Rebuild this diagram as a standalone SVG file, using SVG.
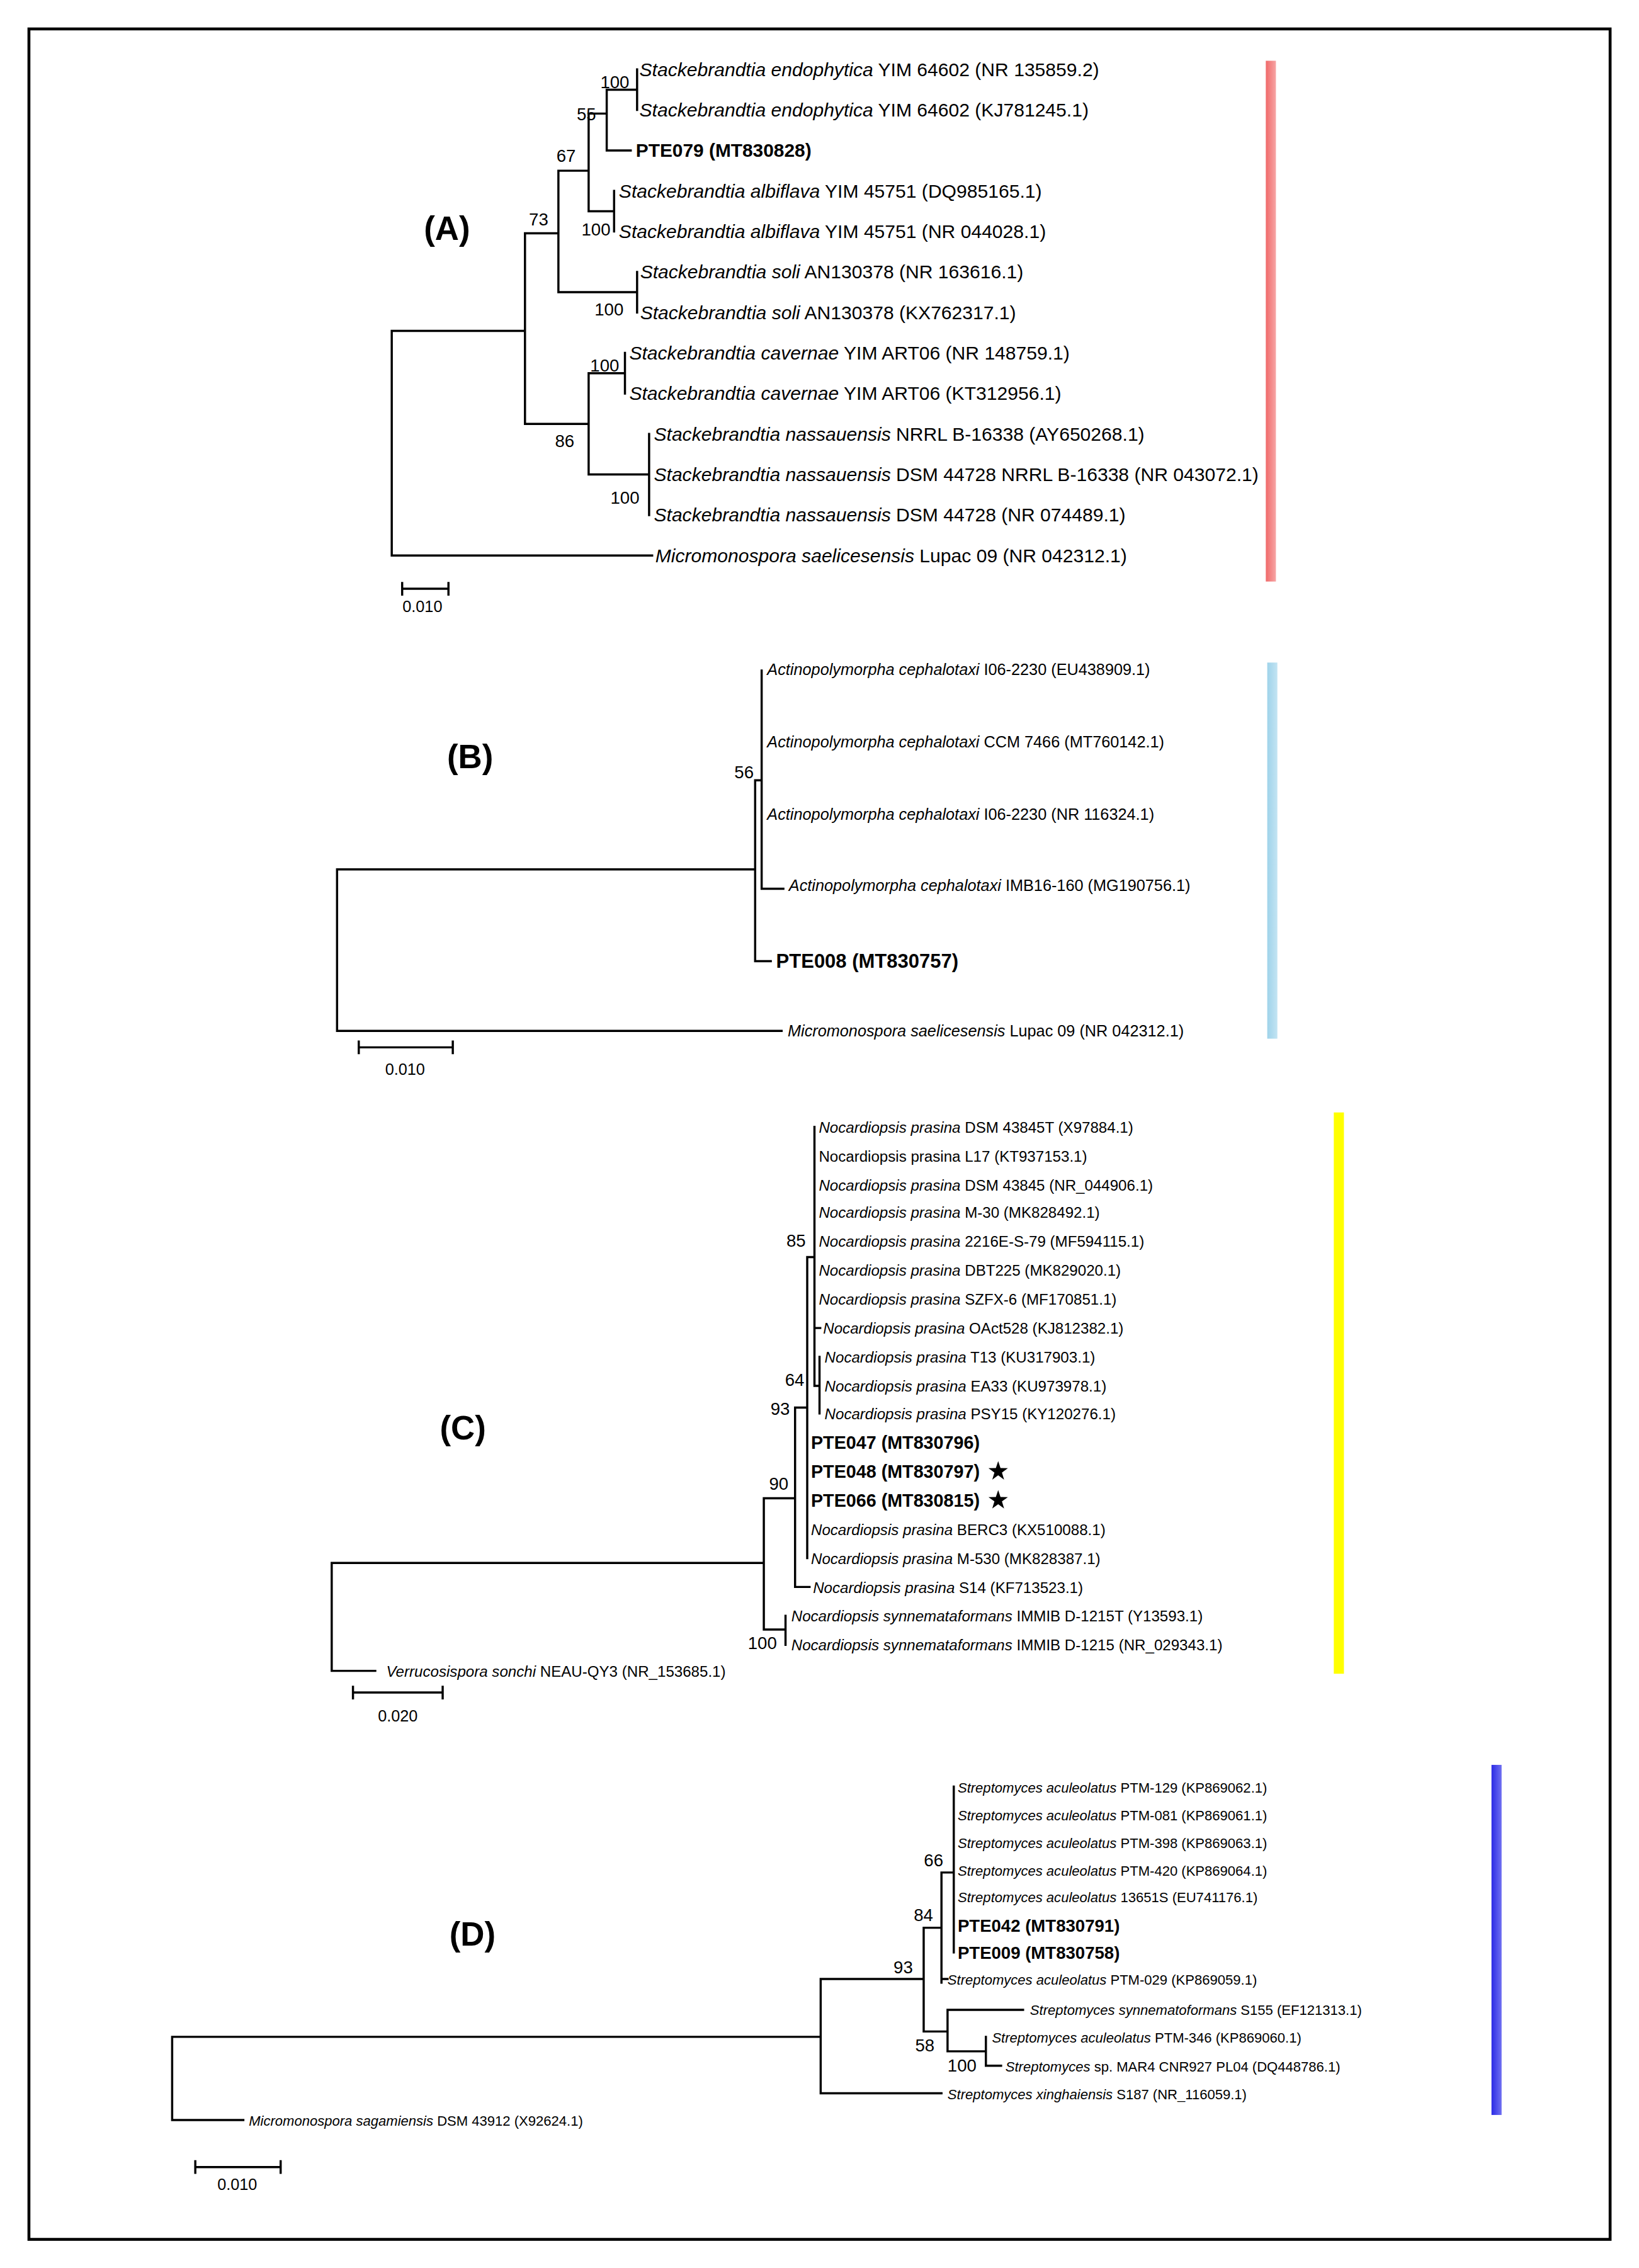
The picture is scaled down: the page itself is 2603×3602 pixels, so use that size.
<svg xmlns="http://www.w3.org/2000/svg" width="2603" height="3602" viewBox="0 0 2603 3602">
<style>
.t{font-family:"Liberation Sans",Arial,sans-serif;fill:#000}
.i{font-style:italic}
.b{font-weight:bold}
.bs{font-family:"Liberation Sans",Arial,sans-serif;font-size:12px;text-anchor:end}
.pl{font-family:"Liberation Sans",Arial,sans-serif;font-size:23px;font-weight:bold;text-anchor:middle}
.br{fill:none;stroke:#000;stroke-width:1.5;stroke-linecap:square}
.sc{font-family:"Liberation Sans",Arial,sans-serif;font-size:11px;text-anchor:middle}
.A{font-size:13.1px}.B{font-size:11px}.C{font-size:10.5px}.D{font-size:9.6px}
.bb{font-weight:bold;font-size:12.5px}
.bd{font-weight:bold;font-size:12px}
</style>
<defs>
<linearGradient id="gr" x1="0" x2="1"><stop offset="0" stop-color="#f06a6a"/><stop offset="1" stop-color="#f7a5a5"/></linearGradient>
<linearGradient id="gb" x1="0" x2="1"><stop offset="0" stop-color="#9fd3ea"/><stop offset="1" stop-color="#c3e4f3"/></linearGradient>
<linearGradient id="gd" x1="0" x2="1"><stop offset="0" stop-color="#2a2ae6"/><stop offset="1" stop-color="#6f6ff0"/></linearGradient>
</defs>
<rect width="2603" height="3602" fill="#fff"/>
<g transform="scale(2.2975)">
<rect x="20" y="20" width="1093" height="1528" fill="none" stroke="#000" stroke-width="2"/>
<g id="connectors" class="br">
<path d="M270.8,228.7V384M270.8,228.7H362.9M270.8,384H450.8M362.9,161.3V293M362.9,161.3H386M386,118V202M386,118H406.9M406.9,78.5V146M406.9,78.5H419.4M419.4,62V104M419.4,62H440.4M440.4,48V76M419.4,104H436M406.9,146H424.5M424.5,132V160M386,202H440.4M440.4,188V216M362.9,293H406.9M406.9,258V328M406.9,258H432M432,244V272M406.9,328H448.7M448.7,300V356"/>
<path d="M278,407H310M278,403V411M310,403V411"/>
<path d="M233,601V712.6M233,601H522M233,712.6H540.3M522,539.4V664.4M522,664.4H532.8M522,539.4H526.5M526.5,463.5V614.4M526.5,614.4H541.5"/>
<path d="M248,724H313M248,720V728M313,720V728"/>
<path d="M229.3,1080.4V1155M229.3,1080.4H528M229.3,1155H259.4M528,1035.7V1126.4M528,1035.7H549.6M528,1126.4H543M543,1117V1137M549.6,973V1097M549.6,1097H559.6M549.6,973H558M558,869V1077M558,869H563M563,779V958M563,958H566.5M566.5,938V977M563,918H567"/>
<path d="M244,1170H306M244,1166V1174M306,1166V1174"/>
<path d="M119,1408V1465.5M119,1408H567.3M119,1465.5H168.2M567.3,1368V1447M567.3,1447H650.8M567.3,1368H638.5M638.5,1332.6V1404.3M638.5,1332.6H650.8M650.8,1294.4V1370.5M650.8,1368H655M650.8,1294.4H659.3M659.3,1235V1349.6M638.5,1404.3H655M655,1389.3V1418M655,1389.3H707.2M655,1418H681.5M681.5,1408V1428M681.5,1428H692"/>
<path d="M135,1498H194M135,1494V1502M194,1494V1502"/>
</g>
<g id="panelA">
<text class="pl" x="309" y="166">(A)</text>
<rect x="875" y="42" width="7" height="360" fill="url(#gr)"/>
<g class="t A">
<text x="442" y="52.5"><tspan class="i">Stackebrandtia endophytica</tspan> YIM 64602 (NR 135859.2)</text>
<text x="442" y="80.5"><tspan class="i">Stackebrandtia endophytica</tspan> YIM 64602 (KJ781245.1)</text>
<text x="439.5" y="108.5" class="b" style="font-size:13px">PTE079 (MT830828)</text>
<text x="427.8" y="136.5"><tspan class="i">Stackebrandtia albiflava</tspan> YIM 45751 (DQ985165.1)</text>
<text x="427.8" y="164.5"><tspan class="i">Stackebrandtia albiflava</tspan> YIM 45751 (NR 044028.1)</text>
<text x="442.5" y="192.5"><tspan class="i">Stackebrandtia soli</tspan> AN130378 (NR 163616.1)</text>
<text x="442.5" y="220.5"><tspan class="i">Stackebrandtia soli</tspan> AN130378 (KX762317.1)</text>
<text x="435" y="248.5"><tspan class="i">Stackebrandtia cavernae</tspan> YIM ART06 (NR 148759.1)</text>
<text x="435" y="276.5"><tspan class="i">Stackebrandtia cavernae</tspan> YIM ART06 (KT312956.1)</text>
<text x="452" y="304.5"><tspan class="i">Stackebrandtia nassauensis</tspan> NRRL B-16338 (AY650268.1)</text>
<text x="452" y="332.5"><tspan class="i">Stackebrandtia nassauensis</tspan> DSM 44728 NRRL B-16338 (NR 043072.1)</text>
<text x="452" y="360.5"><tspan class="i">Stackebrandtia nassauensis</tspan> DSM 44728 (NR 074489.1)</text>
<text x="453" y="388.5"><tspan class="i">Micromonospora saelicesensis</tspan> Lupac 09 (NR 042312.1)</text>
</g>
<g class="bs">
<text x="435" y="61">100</text><text x="412" y="83">55</text><text x="398" y="112">67</text><text x="379" y="156">73</text>
<text x="422" y="163">100</text><text x="431" y="218">100</text><text x="428" y="257">100</text><text x="397" y="309">86</text><text x="442" y="348">100</text>
</g>
<text class="sc" x="292" y="423">0.010</text>
</g>
<g id="panelB">
<text class="pl" x="325" y="531">(B)</text>
<rect x="876" y="458" width="7" height="260" fill="url(#gb)"/>
<g class="t B">
<text x="530.3" y="466.6"><tspan class="i">Actinopolymorpha cephalotaxi</tspan> I06-2230 (EU438909.1)</text>
<text x="530.3" y="516.6"><tspan class="i">Actinopolymorpha cephalotaxi</tspan> CCM 7466 (MT760142.1)</text>
<text x="530.3" y="566.6"><tspan class="i">Actinopolymorpha cephalotaxi</tspan> I06-2230 (NR 116324.1)</text>
<text x="545.3" y="615.7"><tspan class="i">Actinopolymorpha cephalotaxi</tspan> IMB16-160 (MG190756.1)</text>
<text x="536.5" y="669" class="b" style="font-size:13.5px">PTE008 (MT830757)</text>
<text x="544.5" y="716.6"><tspan class="i">Micromonospora saelicesensis</tspan> Lupac 09 (NR 042312.1)</text>
</g>
<text class="bs" x="521" y="538">56</text>
<text class="sc" x="280" y="743">0.010</text>
</g>
<g id="panelC">
<text class="pl" x="320" y="995">(C)</text>
<rect x="922" y="769" width="7" height="388" fill="#ffff00"/>
<g class="t C">
<text x="566" y="783"><tspan class="i">Nocardiopsis prasina</tspan> DSM 43845T (X97884.1)</text>
<text x="566" y="803">Nocardiopsis prasina L17 (KT937153.1)</text>
<text x="566" y="823"><tspan class="i">Nocardiopsis prasina</tspan> DSM 43845 (NR_044906.1)</text>
<text x="566" y="842"><tspan class="i">Nocardiopsis prasina</tspan> M-30 (MK828492.1)</text>
<text x="566" y="862"><tspan class="i">Nocardiopsis prasina</tspan> 2216E-S-79 (MF594115.1)</text>
<text x="566" y="882"><tspan class="i">Nocardiopsis prasina</tspan> DBT225 (MK829020.1)</text>
<text x="566" y="902"><tspan class="i">Nocardiopsis prasina</tspan> SZFX-6 (MF170851.1)</text>
<text x="569" y="922"><tspan class="i">Nocardiopsis prasina</tspan> OAct528 (KJ812382.1)</text>
<text x="570" y="942"><tspan class="i">Nocardiopsis prasina</tspan> T13 (KU317903.1)</text>
<text x="570" y="962"><tspan class="i">Nocardiopsis prasina</tspan> EA33 (KU973978.1)</text>
<text x="570" y="981"><tspan class="i">Nocardiopsis prasina</tspan> PSY15 (KY120276.1)</text>
<text x="560.6" y="1001.5" class="bb">PTE047 (MT830796)</text>
<text x="560.6" y="1021.5" class="bb">PTE048 (MT830797)</text>
<text x="560.6" y="1041.5" class="bb">PTE066 (MT830815)</text>
<text x="560.6" y="1061"><tspan class="i">Nocardiopsis prasina</tspan> BERC3 (KX510088.1)</text>
<text x="560.6" y="1081"><tspan class="i">Nocardiopsis prasina</tspan> M-530 (MK828387.1)</text>
<text x="562" y="1101"><tspan class="i">Nocardiopsis prasina</tspan> S14 (KF713523.1)</text>
<text x="547" y="1121"><tspan class="i">Nocardiopsis synnemataformans</tspan> IMMIB D-1215T (Y13593.1)</text>
<text x="547" y="1141"><tspan class="i">Nocardiopsis synnemataformans</tspan> IMMIB D-1215 (NR_029343.1)</text>
<text x="267" y="1159"><tspan class="i">Verrucosispora sonchi</tspan> NEAU-QY3 (NR_153685.1)</text>
</g>
<polygon points="690,1010 691.6,1014.8 696.7,1014.9 692.6,1017.9 694.1,1022.8 690,1019.8 685.9,1022.8 687.4,1017.9 683.3,1014.9 688.4,1014.8"/>
<polygon points="690,1030 691.6,1034.8 696.7,1034.9 692.6,1037.9 694.1,1042.8 690,1039.8 685.9,1042.8 687.4,1037.9 683.3,1034.9 688.4,1034.8"/>
<g class="bs">
<text x="557" y="862">85</text><text x="556" y="958">64</text><text x="546" y="978">93</text><text x="545" y="1030">90</text><text x="537" y="1140">100</text>
</g>
<text class="sc" x="275" y="1190">0.020</text>
</g>
<g id="panelD">
<text class="pl" x="326.6" y="1345">(D)</text>
<rect x="1031" y="1220" width="7" height="242" fill="url(#gd)"/>
<g class="t D">
<text x="662" y="1239"><tspan class="i">Streptomyces aculeolatus</tspan> PTM-129 (KP869062.1)</text>
<text x="662" y="1258.5"><tspan class="i">Streptomyces aculeolatus</tspan> PTM-081 (KP869061.1)</text>
<text x="662" y="1277.5"><tspan class="i">Streptomyces aculeolatus</tspan> PTM-398 (KP869063.1)</text>
<text x="662" y="1296.5"><tspan class="i">Streptomyces aculeolatus</tspan> PTM-420 (KP869064.1)</text>
<text x="662" y="1315"><tspan class="i">Streptomyces aculeolatus</tspan> 13651S (EU741176.1)</text>
<text x="662" y="1335.5" class="bd">PTE042 (MT830791)</text>
<text x="662" y="1354" class="bd">PTE009 (MT830758)</text>
<text x="655" y="1372"><tspan class="i">Streptomyces aculeolatus</tspan> PTM-029 (KP869059.1)</text>
<text x="712" y="1393"><tspan class="i">Streptomyces synnematoformans</tspan> S155 (EF121313.1)</text>
<text x="685.7" y="1412"><tspan class="i">Streptomyces aculeolatus</tspan> PTM-346 (KP869060.1)</text>
<text x="695" y="1432"><tspan class="i">Streptomyces</tspan> sp. MAR4 CNR927 PL04 (DQ448786.1)</text>
<text x="655" y="1451"><tspan class="i">Streptomyces xinghaiensis</tspan> S187 (NR_116059.1)</text>
<text x="172" y="1469.5"><tspan class="i">Micromonospora sagamiensis</tspan> DSM 43912 (X92624.1)</text>
</g>
<g class="bs">
<text x="652" y="1290">66</text><text x="645" y="1328">84</text><text x="631" y="1364">93</text><text x="646" y="1418">58</text><text x="675" y="1432">100</text>
</g>
<text class="sc" x="164" y="1514">0.010</text>
</g>
</g>
</svg>
